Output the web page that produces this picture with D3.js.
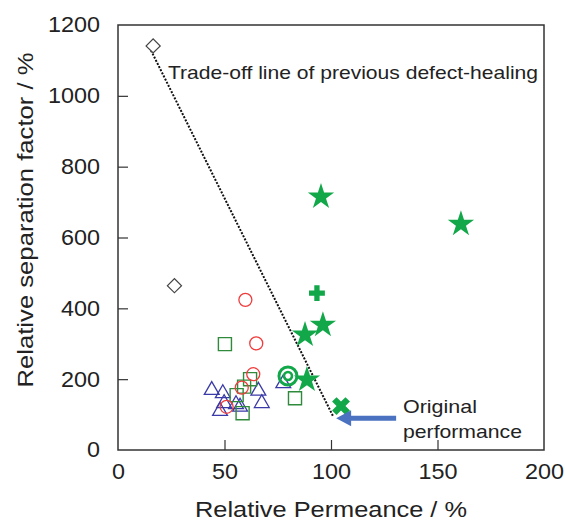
<!DOCTYPE html>
<html>
<head>
<meta charset="utf-8">
<script src="https://cdnjs.cloudflare.com/ajax/libs/d3/7.8.5/d3.min.js"></script>
<style>
    body { margin: 0; background: #fff; }
    text { font-family: "Liberation Sans", Arial, sans-serif; fill: #222; }
</style>
</head>
<body>
<div id="chart"></div>
<script>
// data (relative permeance %, relative separation factor %)
var diamondX = [16.5, 26.5];
var diamondY = [1141, 464];
var circleX = [59.8, 64.9, 63.5, 58.1, 51.0];
var circleY = [424, 301, 214, 176, 122];
var squareX = [50.2, 62.0, 59.2, 55.7, 58.5, 83.1];
var squareY = [299, 200, 179, 155, 104, 146];
var triangleX = [44.0, 49.2, 49.8, 47.9, 55.4, 57.3, 65.9, 67.5, 77.6];
var triangleY = [169, 160, 132, 110, 129, 122, 167, 132, 188];
var starX = [95.3, 161, 96.2, 87.8, 88.7];
var starY = [715, 638, 353, 325, 198];
var plusX = [93.4];
var plusY = [443];
var crossX = [104.7];
var crossY = [124];
var ringX = [79.8];
var ringY = [209];
var tradeOffX = [15.5, 101];
var tradeOffY = [1128, 95];
var originalX = [101];
var originalY = [90];

var xTicks = [0, 50, 100, 150, 200];
var yTicks = [0, 200, 400, 600, 800, 1000, 1200];

var w = 565;
var h = 523;
// plot box edges (avoid the name "top", it is window.top)
var mLeft = 118, mRight = 544, mTop = 25, mBottom = 450;

var svg = d3.select("#chart")
    .append("svg")
    .attr("width", w)
    .attr("height", h);

var x = d3.scaleLinear().domain([0, 200]).range([mLeft, mRight]);
var y = d3.scaleLinear().domain([0, 1200]).range([mBottom, mTop]);

function pairs(xs, ys) {
    return xs.map(function (d, i) { return [d, ys[i]]; });
}

// the source font is a bit wider than Liberation Sans, so stretch text to width
function addText(tx, ty, str, size, len, anchor) {
    return svg.append("text")
        .attr("x", tx)
        .attr("y", ty)
        .attr("font-size", size)
        .attr("text-anchor", anchor || "start")
        .attr("textLength", len)
        .attr("lengthAdjust", "spacingAndGlyphs")
        .text(str);
}

// frame
svg.append("rect")
    .attr("x", mLeft)
    .attr("y", mTop)
    .attr("width", mRight - mLeft)
    .attr("height", mBottom - mTop)
    .attr("fill", "none")
    .attr("stroke", "#333")
    .attr("stroke-width", 1.5);

// axes with inward ticks
var xAxis = svg.append("g")
    .attr("transform", "translate(0," + mBottom + ")")
    .call(d3.axisBottom(x).tickValues(xTicks).tickFormat(d3.format("d")).tickSize(-10).tickPadding(14));
var yAxis = svg.append("g")
    .attr("transform", "translate(" + mLeft + ",0)")
    .call(d3.axisLeft(y).tickValues(yTicks).tickFormat(d3.format("d")).tickSize(-10).tickPadding(18));

[xAxis, yAxis].forEach(function (a) {
    a.select(".domain").remove();
    a.selectAll("line").attr("stroke", "#333").attr("stroke-width", 1.2);
    a.selectAll("text")
        .attr("font-size", 21.5)
        .attr("fill", "#222")
        .attr("textLength", function (d) { return String(d).length * 13; })
        .attr("lengthAdjust", "spacingAndGlyphs")
        .style("font-family", "Liberation Sans, Arial, sans-serif");
});
xAxis.selectAll(".tick").filter(function (d) { return d == 0 || d == 200; }).select("line").remove();
yAxis.selectAll(".tick").filter(function (d) { return d == 0 || d == 1200; }).select("line").remove();

// axis titles
addText(331, 517, "Relative Permeance / %", 21.5, 272, "middle");
addText(0, 0, "Relative separation factor / %", 21.5, 335, "middle")
    .attr("transform", "translate(33,220) rotate(-90)");

// trade-off line
svg.append("path")
    .datum(pairs(tradeOffX, tradeOffY))
    .attr("d", d3.line().x(function (d) { return x(d[0]); }).y(function (d) { return y(d[1]); }))
    .attr("fill", "none")
    .attr("stroke", "#111")
    .attr("stroke-width", 2)
    .attr("stroke-dasharray", "2,1.5");

addText(168, 79, "Trade-off line of previous defect-healing", 18.5, 370);

// markers
function drawSymbol(xs, ys, type, size, fill, stroke, sw, rot) {
    svg.append("g").selectAll("path")
        .data(pairs(xs, ys))
        .enter()
        .append("path")
        .attr("d", d3.symbol().type(type).size(size))
        .attr("transform", function (d) {
            return "translate(" + x(d[0]) + "," + y(d[1]) + ") rotate(" + (rot || 0) + ")";
        })
        .attr("fill", fill)
        .attr("stroke", stroke)
        .attr("stroke-width", sw);
}

drawSymbol(diamondX, diamondY, d3.symbolSquare, 100, "#fff", "#444", 1.2, 45);
drawSymbol(triangleX, triangleY, d3.symbolTriangle, 95, "none", "#3a3aa8", 1.3, 0);
drawSymbol(squareX, squareY, d3.symbolSquare, 170, "none", "#2f8a3c", 1.4, 0);

svg.append("g").selectAll("circle")
    .data(pairs(circleX, circleY))
    .enter()
    .append("circle")
    .attr("cx", function (d) { return x(d[0]); })
    .attr("cy", function (d) { return y(d[1]); })
    .attr("r", 6.5)
    .attr("fill", "none")
    .attr("stroke", "#f03c3c")
    .attr("stroke-width", 1.3);

var green = "#12a84a";
drawSymbol(starX, starY, d3.symbolStar, 215, green, "none", 0, 0);
drawSymbol(plusX, plusY, d3.symbolCross, 140, green, "none", 0, 0);
drawSymbol(crossX, crossY, d3.symbolCross, 200, green, "none", 0, 45);

var ring = svg.append("g").selectAll("g")
    .data(pairs(ringX, ringY))
    .enter()
    .append("g")
    .attr("transform", function (d) { return "translate(" + x(d[0]) + "," + y(d[1]) + ")"; });
ring.append("circle").attr("r", 9).attr("fill", "none").attr("stroke", green).attr("stroke-width", 3);
ring.append("circle").attr("r", 4).attr("fill", "none").attr("stroke", green).attr("stroke-width", 2.6);

// arrow to original performance
var ax = x(originalX[0]) + 3, ay = y(originalY[0]);
svg.append("line")
    .attr("x1", ax + 60)
    .attr("y1", ay)
    .attr("x2", ax + 12)
    .attr("y2", ay)
    .attr("stroke", "#4a72c0")
    .attr("stroke-width", 5);
svg.append("path")
    .attr("d", "M" + ax + "," + ay + "L" + (ax + 15) + "," + (ay - 8) + "L" + (ax + 15) + "," + (ay + 8) + "Z")
    .attr("fill", "#4a72c0");

addText(403, 413, "Original", 19, 74);
addText(403, 438, "performance", 19, 119);
</script>
</body>
</html>
